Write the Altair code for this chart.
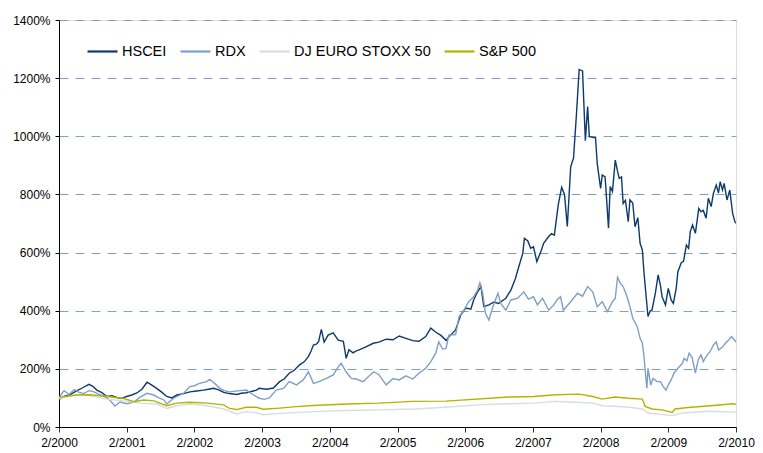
import altair as alt
import pandas as pd

# month index since 2/2000 (0..120) and value in %
hscei_m = [0.0,0.9,1.8,3.2,4.2,5.3,6.0,6.7,7.6,8.5,9.4,10.3,11.1,12.0,12.9,13.8,14.7,15.6,16.4,17.3,18.2,19.1,20.0,20.9,22.1,23.2,24.4,25.6,26.5,27.4,28.3,29.2,30.2,31.5,32.3,33.2,34.1,35.0,35.5,36.8,38.0,39.1,39.9,40.8,41.7,42.6,43.5,44.2,44.7,45.1,45.6,46.0,46.5,47.0,47.7,48.6,49.5,50.4,50.9,51.4,52.1,52.7,53.2,54.4,55.7,56.7,58.0,59.2,60.3,61.5,62.7,63.8,65.0,65.9,66.8,67.7,68.6,69.1,70.3,71.2,72.1,73.0,73.5,74.2,74.8,75.3,76.2,77.1,77.9,79.2,80.1,80.9,81.5,82.2,82.5,83.1,83.6,84.1,84.7,85.4,85.9,86.8,87.3,87.8,88.5,89.1,89.6,90.1,90.7,91.2,91.7,92.2,92.8,93.3,93.7,94.0,95.1,95.4,96.0,96.3,96.8,97.4,97.7,98.1,98.6,99.0,99.3,99.7,100.0,100.4,100.9,101.2,101.7,102.1,102.6,103.0,103.4,103.7,104.1,104.4,104.8,105.1,105.7,106.2,106.6,106.9,107.5,108.0,108.5,108.9,109.4,109.7,110.3,110.7,111.2,111.6,111.9,112.3,112.8,113.4,113.8,114.2,114.7,115.1,115.6,116.0,116.5,116.9,117.2,117.6,117.9,118.4,118.9,119.4,119.8,120.2]
hscei_v = [95,105,110,125,135,147,140,127,118,105,108,101,98,105,110,117,130,154,145,133,120,105,100,110,115,121,124,127,130,133,128,119,115,112,116,118,122,127,133,130,134,156,165,185,195,213,225,242,262,282,285,293,336,292,316,324,299,295,236,266,255,262,265,276,288,292,302,300,313,305,297,295,311,340,326,315,298,310,334,385,409,405,437,465,483,414,420,430,425,443,471,511,551,597,649,640,615,620,569,603,632,655,665,660,765,825,800,690,895,925,1070,1230,1225,985,1102,999,995,907,821,867,860,684,827,810,918,880,855,860,769,780,706,781,770,689,720,632,609,529,443,380,400,402,460,523,488,448,420,477,437,425,477,534,565,570,626,615,672,695,666,752,740,745,718,787,758,804,832,805,844,815,838,781,815,735,706,698]

rdx_m = [0.0,0.5,0.9,1.8,2.7,3.5,4.4,5.3,6.2,7.1,8.0,9.0,9.9,10.8,12.0,13.3,14.3,15.6,16.8,17.7,18.6,19.1,20.3,22.1,23.2,24.0,24.9,26.2,26.7,27.6,28.5,29.3,30.2,32.0,33.2,34.5,35.5,36.4,37.3,38.5,39.8,40.8,42.1,43.3,44.2,45.1,46.1,47.4,48.6,49.5,50.0,50.9,51.8,52.7,53.9,55.0,55.8,56.7,58.0,59.2,60.3,61.5,62.7,63.8,65.0,65.9,66.8,67.3,68.0,68.6,69.1,70.3,70.9,71.8,72.6,73.5,74.2,74.6,75.1,75.6,76.2,76.9,77.8,78.3,79.2,80.1,81.3,82.4,83.2,84.1,84.8,85.7,86.8,87.7,88.4,88.9,89.4,90.7,91.9,92.8,93.7,94.6,95.4,96.3,97.2,98.1,98.6,99.0,99.5,100.0,100.7,101.2,101.7,102.5,103.0,103.4,103.7,103.9,104.2,104.4,104.9,105.3,106.0,106.6,107.1,107.6,108.0,108.5,109.0,109.7,110.5,110.8,111.3,111.7,112.2,112.8,113.3,113.8,114.2,114.9,115.4,116.0,116.5,116.9,117.6,118.1,118.7,119.2,119.7,120.2]
rdx_v = [99,115,125,112,129,120,115,125,121,112,105,93,72,86,80,86,102,116,110,100,93,79,99,116,139,142,150,156,164,150,133,125,121,125,127,110,99,95,100,127,133,156,145,162,190,150,156,167,179,207,219,190,167,165,156,176,190,180,145,167,162,176,165,185,202,225,255,293,268,270,316,318,379,402,431,448,471,496,460,391,368,414,460,425,402,437,443,465,440,448,420,443,402,420,440,448,402,431,460,450,483,465,414,431,397,431,443,515,494,483,448,414,374,345,305,288,242,196,133,202,144,167,156,156,139,127,145,162,185,202,219,236,228,254,240,185,231,248,225,248,259,282,293,265,275,288,299,311,300,288]

stoxx_m = [0.0,3.2,5.5,8.5,11.5,14.3,17.3,19.1,20.9,23.2,26.2,29.2,31.5,33.2,35.0,36.2,39.1,45.1,50.9,56.7,63.3,69.1,75.1,79.7,84.0,88.0,91.5,94.6,96.3,100.9,103.4,104.4,108.7,110.5,115.0,120.2]
stoxx_v = [98,113,107,96,90,82,79,64,73,79,73,62,45,53,49,42,47,53,57,59,62,69,77,80,82,88,85,82,73,69,62,48,39,48,54,51]

spx_m = [0.0,3.2,5.5,8.5,11.5,13.3,15.0,16.8,19.1,20.9,23.2,26.2,29.2,30.2,31.5,33.2,35.0,36.2,39.1,42.0,45.1,50.9,56.7,62.7,68.6,79.7,84.1,88.1,92.2,94.6,96.3,98.6,100.9,103.4,103.9,105.1,106.9,108.7,109.2,111.5,116.0,119.5,120.2]
spx_v = [102,110,111,105,98,87,93,90,73,82,85,82,76,64,60,68,68,61,65,70,74,79,82,88,89,103,105,111,113,105,96,103,99,96,71,62,59,50,62,67,74,80,77]

series = ["HSCEI", "RDX", "DJ EURO STOXX 50", "S&P 500"]
colors = ["#0d3a6b", "#7f9fc6", "#d3dee6", "#b4b400"]
x_ticks = list(range(0, 121, 12))
y_ticks = list(range(0, 1401, 200))

rows = []
for i, (name, ms, vs) in enumerate(zip(series, [hscei_m, rdx_m, stoxx_m, spx_m],
                                        [hscei_v, rdx_v, stoxx_v, spx_v])):
    for m, v in zip(ms, vs):
        rows.append({"series": name, "m": m, "v": v, "k": i})
df = pd.DataFrame(rows)

lines = alt.Chart(df).mark_line(strokeWidth=1.4, clip=True).encode(
    x=alt.X("m:Q",
            scale=alt.Scale(domain=[0, 120], nice=False, zero=False),
            axis=alt.Axis(values=x_ticks, labelExpr="'2/' + (2000 + datum.value/12)",
                          title=None, grid=False, domainColor="#000000", tickColor="#333333",
                          tickSize=5, labelPadding=5, labelFontSize=12,
                          labelFlush=False, labelOverlap=False, labelBound=False,
                          labelFont="Liberation Sans", labelColor="#000000")),
    y=alt.Y("v:Q",
            scale=alt.Scale(domain=[0, 1400], nice=False),
            axis=alt.Axis(values=y_ticks, labelExpr="datum.value + '%'", title=None,
                          grid=True, gridColor="#7f9fc8", gridDash=[9, 7], gridWidth=1,
                          domainColor="#000000", tickColor="#000000", tickSize=4,
                          labelFlush=False, labelOverlap=False,
                          labelPadding=5, labelFontSize=12, labelFont="Liberation Sans",
                          labelColor="#000000")),
    color=alt.Color("series:N",
                    scale=alt.Scale(domain=series, range=colors),
                    sort=series,
                    legend=alt.Legend(orient="none", legendX=27, legendY=15,
                                      direction="horizontal", title=None,
                                      symbolType="stroke", symbolSize=900,
                                      symbolStrokeWidth=2.2, labelFontSize=14.5,
                                      labelFont="Liberation Sans", labelColor="#000000",
                                      labelOffset=3, columnPadding=9)),
    order=alt.Order("k:Q"),
    detail="series:N",
)

chart = lines.properties(
    width=677, height=407,
    autosize=alt.AutoSizeParams(type="none"),
    padding={"left": 51, "top": 12, "right": 19, "bottom": 26},
).configure_view(stroke=None).configure(background="#ffffff")

chart.save("out.html", embed_options={"renderer": "svg", "actions": False})
